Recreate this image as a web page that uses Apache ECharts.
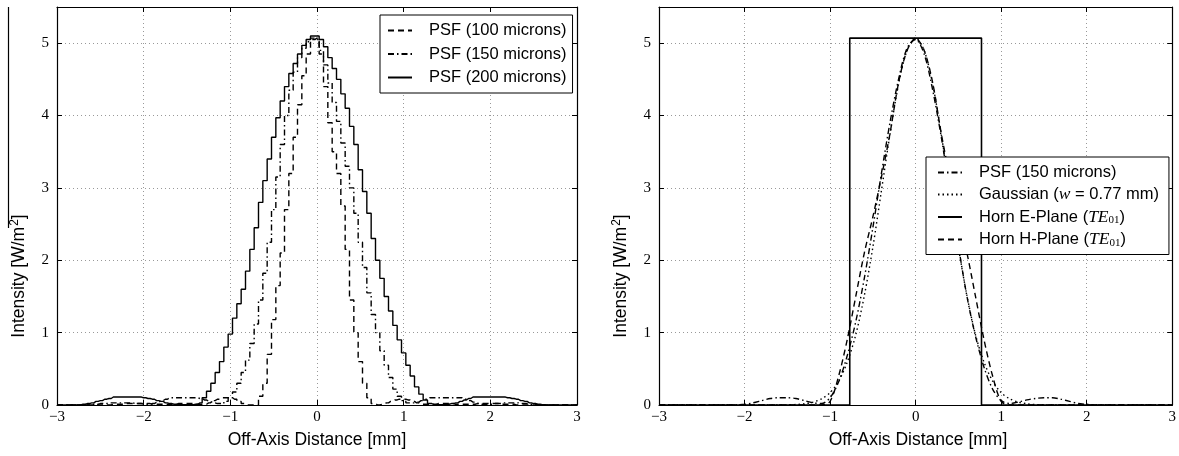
<!DOCTYPE html>
<html>
<head>
<meta charset="utf-8">
<script src="https://cdn.jsdelivr.net/npm/echarts@6/dist/echarts.min.js"></script>
<style>
html, body { margin: 0; padding: 0; background: #fff; }
#chart { width: 1179px; height: 456px; }
</style>
</head>
<body>
<div id="chart"></div>
<script>
// left panel: PSF samples every 0.05 mm from -3 to 3
var leftStart = -3, leftStep = 0.05;
var psf100 = [
  0, 0, 0, 0, 0, 0, 0, 0, 0, 0,
  0, 0, 0, 0.01, 0.01, 0.01, 0.02, 0.02, 0.02, 0.02,
  0.02, 0.02, 0.01, 0.01, 0.01, 0.01, 0.01, 0.01, 0.02, 0.02,
  0.02, 0.02, 0.01, 0.01, 0.01, 0.03, 0.06, 0.08, 0.1, 0.1,
  0.1, 0.08, 0.05, 0.02, 0, 0, 0, 0.12, 0.3, 0.7,
  1.18, 1.65, 2.1, 2.7, 3.2, 3.7, 4.15, 4.55, 4.85, 5.05,
  5.07, 4.85, 4.4, 3.9, 3.5, 3.2, 2.75, 2.15, 1.45, 1.0,
  0.6, 0.3, 0.1, 0.02, 0, 0.01, 0.03, 0.05, 0.07, 0.08,
  0.08, 0.07, 0.05, 0.03, 0.01, 0.01, 0.01, 0.01, 0.02, 0.02,
  0.02, 0.02, 0.01, 0.01, 0.01, 0.01, 0.01, 0.02, 0.02, 0.02,
  0.02, 0.02, 0.02, 0.01, 0.01, 0.01, 0, 0, 0, 0,
  0, 0, 0, 0, 0, 0, 0, 0, 0, 0, 0
];
var psf150 = [
  0, 0, 0, 0, 0, 0, 0, 0, 0.01, 0.01,
  0.02, 0.02, 0.03, 0.03, 0.03, 0.03, 0.03, 0.03, 0.02, 0.02,
  0.01, 0.01, 0.02, 0.04, 0.06, 0.08, 0.1, 0.1, 0.1, 0.1,
  0.1, 0.1, 0.1, 0.09, 0.07, 0.05, 0.03, 0.02, 0.02, 0.05,
  0.1, 0.18, 0.3, 0.45, 0.62, 0.85, 1.12, 1.45, 1.82, 2.25,
  2.7, 3.15, 3.6, 4.0, 4.35, 4.6, 4.8, 4.93, 5.02, 5.07,
  5.05, 4.9, 4.7, 4.45, 4.18, 3.92, 3.62, 3.3, 3.0, 2.65,
  2.25, 1.9, 1.55, 1.25, 1.0, 0.75, 0.55, 0.38, 0.22, 0.12,
  0.06, 0.03, 0.03, 0.04, 0.06, 0.08, 0.1, 0.1, 0.1, 0.1,
  0.1, 0.1, 0.1, 0.1, 0.08, 0.06, 0.04, 0.02, 0.01, 0.01,
  0.01, 0.02, 0.02, 0.03, 0.03, 0.03, 0.03, 0.02, 0.02, 0.01,
  0.01, 0, 0, 0, 0, 0, 0, 0, 0, 0, 0
];
var psf200 = [
  0, 0, 0, 0, 0, 0, 0.01, 0.02, 0.03, 0.05,
  0.06, 0.08, 0.09, 0.11, 0.11, 0.11, 0.11, 0.11, 0.11, 0.11,
  0.1, 0.09, 0.08, 0.06, 0.05, 0.03, 0.02, 0.01, 0.005, 0.005,
  0.005, 0.005, 0.01, 0.03, 0.1, 0.19, 0.3, 0.45, 0.6, 0.8,
  0.98, 1.2, 1.4, 1.6, 1.85, 2.15, 2.45, 2.8, 3.1, 3.4,
  3.7, 3.97, 4.2, 4.4, 4.58, 4.72, 4.85, 4.97, 5.05, 5.1,
  5.1, 5.05, 4.95, 4.8, 4.65, 4.5, 4.3, 4.1, 3.85, 3.6,
  3.25, 2.95, 2.65, 2.3, 2.0, 1.75, 1.5, 1.3, 1.1, 0.9,
  0.72, 0.55, 0.4, 0.25, 0.15, 0.07, 0.02, 0.005, 0.005, 0.005,
  0.01, 0.02, 0.03, 0.05, 0.07, 0.09, 0.11, 0.11, 0.11, 0.11,
  0.11, 0.11, 0.11, 0.11, 0.1, 0.09, 0.08, 0.06, 0.05, 0.03,
  0.02, 0.01, 0.005, 0, 0, 0, 0, 0, 0, 0, 0
];

// right panel: samples every 0.1 mm from -3 to 3
var rightStart = -3, rightStep = 0.1;
var psfRight = [
  0, 0, 0, 0, 0, 0, 0, 0, 0, 0,
  0.01, 0.03, 0.06, 0.09, 0.1, 0.1, 0.09, 0.06, 0.03, 0.02,
  0.1, 0.32, 0.68, 1.15, 1.75, 2.45, 3.2, 3.9, 4.5, 4.93,
  5.05, 4.85, 4.35, 3.7, 2.95, 2.2, 1.5, 0.95, 0.52, 0.22,
  0.06, 0.02, 0.04, 0.07, 0.09, 0.1, 0.1, 0.08, 0.05, 0.02,
  0.01, 0, 0, 0, 0, 0, 0, 0, 0, 0, 0
];
var gaussian = [
  0, 0, 0, 0, 0, 0, 0, 0, 0, 0,
  0, 0, 0, 0, 0, 0.003, 0.007, 0.017, 0.04, 0.086,
  0.17, 0.33, 0.59, 0.97, 1.51, 2.18, 2.96, 3.74, 4.43, 4.9,
  5.07, 4.9, 4.43, 3.74, 2.96, 2.18, 1.51, 0.97, 0.59, 0.33,
  0.17, 0.086, 0.04, 0.017, 0.007, 0.003, 0, 0, 0, 0,
  0, 0, 0, 0, 0, 0, 0, 0, 0, 0, 0
];
var hPlane = [
  0, 0, 0, 0, 0, 0, 0, 0, 0, 0,
  0, 0, 0, 0, 0, 0, 0, 0, 0, 0,
  0.05, 0.4, 0.9, 1.5, 2.1, 2.6, 3.15, 3.75, 4.45, 4.9,
  5.07, 4.9, 4.45, 3.75, 3.15, 2.6, 2.1, 1.5, 0.9, 0.4,
  0.05, 0, 0, 0, 0, 0, 0, 0, 0, 0,
  0, 0, 0, 0, 0, 0, 0, 0, 0, 0, 0
];
var ePlaneX = [-3, -0.77, -0.77, 0.77, 0.77, 3];
var ePlaneY = [0, 0, 5.07, 5.07, 0, 0];

function pairs(start, step, ys) {
  return ys.map(function (y, i) { return [+(start + i * step).toFixed(2), y]; });
}
function zip(xs, ys) {
  return xs.map(function (x, i) { return [x, ys[i]]; });
}
function minus(v) { return String(v).replace('-', '\u2212'); }

var serif = 'Liberation Serif';
var sans = 'Liberation Sans';
var dashStyle = [6, 4];
var dashDot = [6, 3, 1.5, 3];
var dotStyle = [1.5, 3];
var frame = { show: true, onZero: false, lineStyle: { color: '#000', width: 1.2 } };
var ticks = { show: true, inside: true, length: 5, lineStyle: { color: '#000' } };
var gridLines = { show: true, lineStyle: { color: '#999', type: [1, 3] } };

function xAxes(g) {
  return [{
    gridIndex: g, type: 'value', min: -3, max: 3, interval: 1,
    axisLine: frame, axisTick: ticks, splitLine: gridLines,
    axisLabel: { formatter: minus, fontFamily: serif, fontSize: 15, color: '#000', margin: 5 }
  }, {
    gridIndex: g, type: 'value', min: -3, max: 3, interval: 1, position: 'top',
    axisLine: frame, axisTick: ticks, axisLabel: { show: false }, splitLine: { show: false }
  }];
}
function yAxes(g) {
  return [{
    gridIndex: g, type: 'value', min: 0, max: 5.5, interval: 1,
    axisLine: frame, axisTick: ticks, splitLine: gridLines,
    axisLabel: { formatter: minus, fontFamily: serif, fontSize: 15, color: '#000', margin: 8,
      showMaxLabel: false }
  }, {
    gridIndex: g, type: 'value', min: 0, max: 5.5, interval: 1, position: 'right',
    axisLine: frame, axisTick: ticks, axisLabel: { show: false }, splitLine: { show: false }
  }];
}

function lineSeries(name, g, data, type, step, smooth, width) {
  return {
    name: name, type: 'line', xAxisIndex: g * 2, yAxisIndex: g * 2,
    data: data, symbol: 'none', step: step || false, smooth: smooth || false,
    lineStyle: { color: '#000', width: width || 1.4, type: type },
    itemStyle: { color: '#000' },
    emphasis: { disabled: true }, animation: false
  };
}

var legendText = { fontFamily: sans, fontSize: 16.5, color: '#000', lineHeight: 16,
  padding: [0, 0, 0, 12],
  rich: {
    n: { fontFamily: sans, fontSize: 16.5, color: '#000', lineHeight: 16 },
    i: { fontFamily: serif, fontStyle: 'italic', fontSize: 17.5, color: '#000', lineHeight: 16 },
    s: { fontFamily: serif, fontSize: 11, color: '#000', lineHeight: 9, padding: [7, 0, 0, 0] }
  }
};
var legendNames = {
  'Gaussian': '{n|Gaussian (}{i|w}{n| = 0.77 mm)}',
  'Horn E-Plane': '{n|Horn E-Plane (}{i|TE}{s|01}{n|)}',
  'Horn H-Plane': '{n|Horn H-Plane (}{i|TE}{s|01}{n|)}'
};
function legendBox(names, left, top, pad, gap) {
  return {
    data: names, orient: 'vertical', left: left, top: top,
    itemWidth: 24, itemHeight: 12, itemGap: gap, padding: pad,
    borderColor: '#000', borderWidth: 1, borderRadius: 0, backgroundColor: '#fff',
    itemStyle: { opacity: 0 }, textStyle: legendText, selectedMode: false,
    formatter: function (n) { return legendNames[n] || '{n|' + n.trim() + '}'; }
  };
}

var axisTitle = {
  font: '17.5px "Liberation Sans"', fill: '#000', align: 'center', verticalAlign: 'middle',
  rich: { sup: { fontFamily: sans, fontSize: 12, fill: '#000', padding: [0, 0, 9, 1] } }
};
function titleText(x, y, text, rotate) {
  return { type: 'text', x: x, y: y, rotation: rotate ? Math.PI / 2 : 0,
    style: Object.assign({ text: text }, axisTitle) };
}

var chart = echarts.init(document.getElementById('chart'), null, { renderer: 'canvas' });
var option = {
  animation: false,
  backgroundColor: '#fff',
  grid: [
    { left: 57, top: 7, width: 520, height: 398 },
    { left: 659, top: 7, width: 519, height: 398 }
  ],
  xAxis: xAxes(0).concat(xAxes(1)),
  yAxis: yAxes(0).concat(yAxes(1)),
  legend: [
    legendBox(['PSF (100 microns)', 'PSF (150 microns)', 'PSF (200 microns)'], 380, 15, [7, 6, 7, 7], 6.5),
    legendBox(['PSF (150 microns) ', 'Gaussian', 'Horn E-Plane', 'Horn H-Plane'], 926, 157, [7, 10, 6, 11], 4.5)
  ],
  graphic: [
    { type: 'line', shape: { x1: 8.5, y1: 7, x2: 8.5, y2: 228 },
      style: { stroke: '#000', lineWidth: 1.2 } },
    titleText(19.5, 276, 'Intensity [W/m{sup|2}]', true),
    titleText(621.5, 276, 'Intensity [W/m{sup|2}]', true),
    titleText(317, 440, 'Off-Axis Distance [mm]', false),
    titleText(918, 440, 'Off-Axis Distance [mm]', false)
  ],
  series: [
    lineSeries('PSF (100 microns)', 0, pairs(leftStart, leftStep, psf100), dashStyle, 'middle'),
    lineSeries('PSF (150 microns)', 0, pairs(leftStart, leftStep, psf150), dashDot, 'middle'),
    lineSeries('PSF (200 microns)', 0, pairs(leftStart, leftStep, psf200), 'solid', 'middle'),
    lineSeries('PSF (150 microns) ', 1, pairs(rightStart, rightStep, psfRight), dashDot, false, 0.3),
    lineSeries('Gaussian', 1, pairs(rightStart, rightStep, gaussian), dotStyle, false, 0.3),
    lineSeries('Horn E-Plane', 1, zip(ePlaneX, ePlaneY), 'solid', false, false, 1.6),
    lineSeries('Horn H-Plane', 1, pairs(rightStart, rightStep, hPlane), dashStyle, false, 0.3)
  ]
};
chart.setOption(option);
</script>
</body>
</html>
